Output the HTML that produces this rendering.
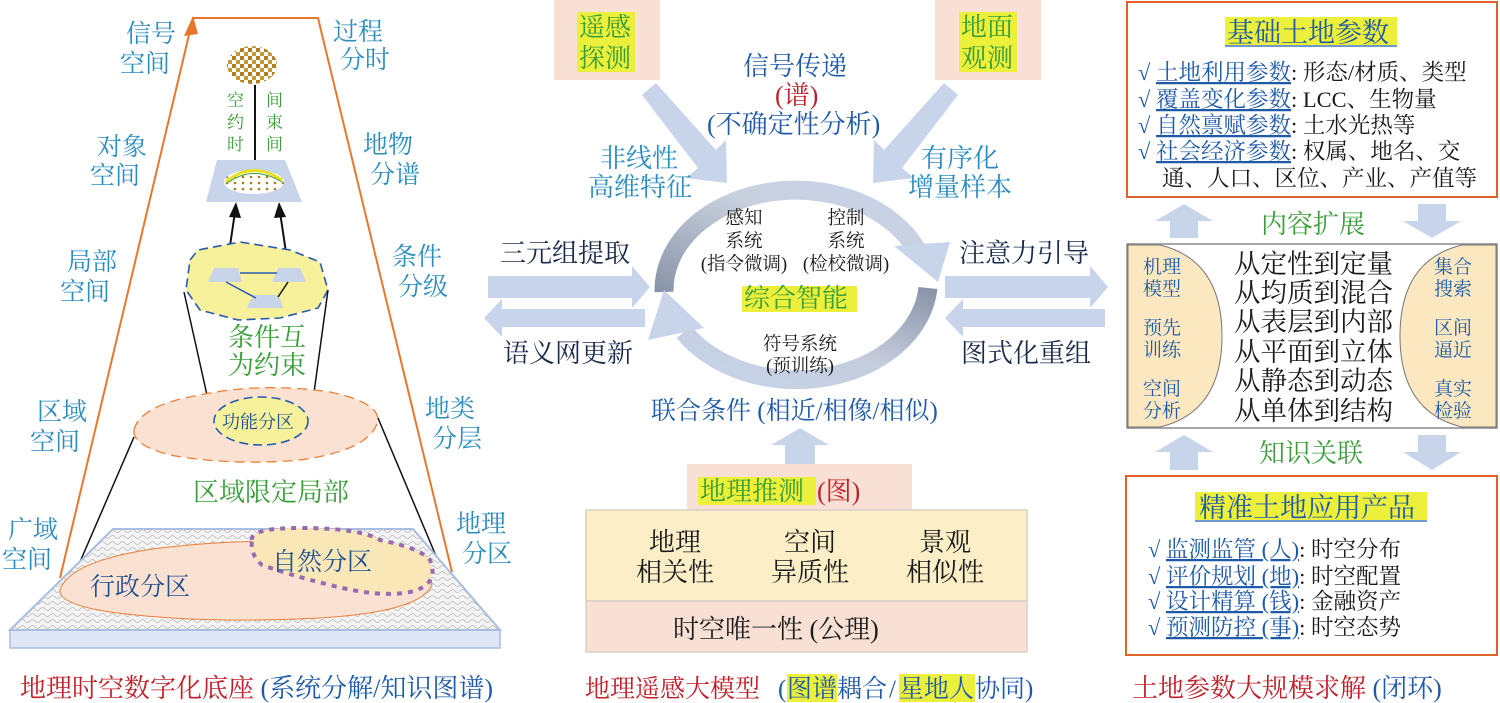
<!DOCTYPE html>
<html><head><meta charset="utf-8">
<style>
html,body{margin:0;padding:0;background:#fff;}
svg{display:block;}
text{font-family:"Liberation Serif","Noto Serif CJK SC",serif;}
.t{fill:#2b8cbf;font-size:25px;}
</style></head>
<body>
<svg width="1500" height="703" viewBox="0 0 1500 703" xmlns="http://www.w3.org/2000/svg">
<defs>
<pattern id="chk" width="8" height="8" patternUnits="userSpaceOnUse">
<rect width="8" height="8" fill="#fff"/><rect width="4" height="4" fill="#b08020"/><rect x="4" y="4" width="4" height="4" fill="#c89838"/>
</pattern>
<pattern id="wav" width="10" height="6" patternUnits="userSpaceOnUse">
<rect width="10" height="6" fill="#f4f4f4"/><path d="M0 3 Q2.5 0 5 3 T10 3" stroke="#b8b8b8" stroke-width="0.8" fill="none"/>
</pattern>
<pattern id="dots" width="8" height="6" patternUnits="userSpaceOnUse">
<rect width="8" height="6" fill="#fff"/><circle cx="3" cy="3" r="1.3" fill="#b07820"/>
</pattern>
<linearGradient id="gtop" x1="0" y1="1" x2="1" y2="0">
<stop offset="0" stop-color="#8a94a8"/><stop offset="0.6" stop-color="#c8d0de"/><stop offset="1" stop-color="#c8d4ea"/>
</linearGradient>
<linearGradient id="gbot" x1="1" y1="0" x2="0" y2="1">
<stop offset="0" stop-color="#8a94a8"/><stop offset="0.5" stop-color="#c4ccdc"/><stop offset="1" stop-color="#c8d4ea"/>
</linearGradient>
</defs>

<!-- ================= LEFT PANEL ================= -->
<polyline points="60,578 193,18 318,18 452,572" fill="none" stroke="#e8772e" stroke-width="2"/>
<polygon points="193,16 184,36 198,34" fill="#e8772e"/>

<text class="t" x="126" y="42">信号</text><text class="t" x="120" y="72">空间</text>
<text class="t" x="333" y="40">过程</text><text class="t" x="340" y="68">分时</text>
<text class="t" x="97" y="155">对象</text><text class="t" x="90" y="184">空间</text>
<text class="t" x="363" y="153">地物</text><text class="t" x="370" y="183">分谱</text>
<text class="t" x="67" y="270">局部</text><text class="t" x="60" y="300">空间</text>
<text class="t" x="392" y="265">条件</text><text class="t" x="398" y="295">分级</text>
<text class="t" x="37" y="420">区域</text><text class="t" x="30" y="450">空间</text>
<text class="t" x="425" y="417">地类</text><text class="t" x="432" y="447">分层</text>
<text class="t" x="8" y="538">广域</text><text class="t" x="2" y="568">空间</text>
<text class="t" x="456" y="532">地理</text><text class="t" x="462" y="562">分区</text>

<ellipse cx="252" cy="65" rx="25" ry="19" fill="url(#chk)"/>
<g font-size="17">
<text x="227" y="106" fill="#3a9e3a">空</text><text x="227" y="128" fill="#3a9e3a">约</text><text x="227" y="150" fill="#3a9e3a">时</text>
<text x="266" y="106" fill="#3a9e3a">间</text><text x="266" y="128" fill="#3a9e3a">束</text><text x="266" y="150" fill="#3a9e3a">间</text>
</g>
<line x1="255" y1="85" x2="255" y2="172" stroke="#111" stroke-width="2"/>
<polygon points="255,182 249,167 261,167" fill="#111"/>
<polygon points="206,202 302,202 285,160 217,160" fill="#c8d4ea"/>
<ellipse cx="254" cy="182" rx="30" ry="12" fill="url(#dots)"/>
<path d="M226 182 Q252 160 282 180" fill="none" stroke="#e8e020" stroke-width="3"/>
<path d="M226 184 Q252 164 282 182" fill="none" stroke="#3a9e3a" stroke-width="1"/>
<line x1="227" y1="266" x2="235" y2="212" stroke="#111" stroke-width="2"/>
<polygon points="236,202 229,217 241,218" fill="#111"/>
<line x1="288" y1="266" x2="280" y2="212" stroke="#111" stroke-width="2"/>
<polygon points="279,202 274,218 286,217" fill="#111"/>
<polygon points="190,260 198,250 240,242 290,250 320,262 328,290 318,308 280,318 238,320 200,310 186,290" fill="#f6f19a" stroke="#2a5ab0" stroke-width="1.6" stroke-dasharray="9,5"/>
<polygon points="208,282 242,282 238,268 214,268" fill="#c8d4ea"/>
<polygon points="272,282 306,282 300,268 278,268" fill="#c8d4ea"/>
<polygon points="247,308 283,308 279,295 253,295" fill="#c8d4ea"/>
<line x1="240" y1="273" x2="277" y2="273" stroke="#2a5ab0" stroke-width="1.5"/>
<line x1="226" y1="282" x2="256" y2="298" stroke="#2a5ab0" stroke-width="1.5"/>
<line x1="288" y1="282" x2="278" y2="297" stroke="#111" stroke-width="1.5"/>
<line x1="184" y1="292" x2="213" y2="422" stroke="#111" stroke-width="1.5"/>
<line x1="328" y1="290" x2="310" y2="422" stroke="#111" stroke-width="1.5"/>
<text x="228" y="346" font-size="26" fill="#3a9e3a">条件互</text>
<text x="228" y="374" font-size="26" fill="#3a9e3a">为约束</text>
<path d="M134 430 Q140 405 200 395 Q260 382 330 392 Q378 402 378 420 Q372 450 300 460 Q230 466 170 455 Q132 445 134 430 Z" fill="#fbe1d2" stroke="#e8803a" stroke-width="1.3" stroke-dasharray="10,6"/>
<ellipse cx="261" cy="421" rx="47" ry="24" fill="#f6f19a" stroke="#2a5ab0" stroke-width="1.6" stroke-dasharray="9,5"/>
<text x="222" y="428" font-size="18" fill="#1f4f90">功能分区</text>
<line x1="134" y1="437" x2="73" y2="578" stroke="#111" stroke-width="1.5"/>
<line x1="378" y1="418" x2="444" y2="575" stroke="#111" stroke-width="1.5"/>
<text x="193" y="501" font-size="26" fill="#3a9e3a">区域限定局部</text>
<rect x="10" y="630" width="490" height="18" fill="#dfe6f6" stroke="#a9bde0" stroke-width="1.5"/>
<polygon points="113,529 413,529 500,630 10,630" fill="url(#wav)" stroke="#a9bde0" stroke-width="2"/>
<path d="M60 590 Q70 560 160 548 Q260 536 360 545 Q430 560 432 585 Q420 612 320 618 Q200 624 110 612 Q58 604 60 590 Z" fill="#fbe1d2" stroke="#e8803a" stroke-width="1"/>
<path d="M252 540 Q250 528 300 528 Q360 528 380 540 Q420 548 430 560 Q440 585 410 592 Q380 598 330 585 Q290 575 262 565 Q250 555 252 540 Z" fill="#fae7b8" stroke="#9a6ab0" stroke-width="4" stroke-dasharray="5,6"/>
<text x="272" y="570" font-size="25" fill="#1f4f90">自然分区</text>
<text x="90" y="595" font-size="25" fill="#1f4f90">行政分区</text>
<text x="20" y="697" font-size="26"><tspan fill="#c0202a">地理时空数字化底座</tspan><tspan fill="#1f5aa8"> (系统分解/知识图谱)</tspan></text>

<!-- ================= MIDDLE PANEL ================= -->
<rect x="554" y="0" width="106" height="80" fill="#f8e0d4"/>
<rect x="577" y="12" width="58" height="60" fill="#ecf03a"/>
<text x="579" y="36" font-size="26" fill="#3a9e3a">遥感</text><text x="579" y="67" font-size="26" fill="#3a9e3a">探测</text>
<rect x="935" y="0" width="106" height="80" fill="#f8e0d4"/>
<rect x="959" y="12" width="58" height="60" fill="#ecf03a"/>
<text x="961" y="36" font-size="26" fill="#3a9e3a">地面</text><text x="961" y="67" font-size="26" fill="#3a9e3a">观测</text>

<text x="743" y="75" font-size="26" fill="#1f5aa8">信号传递</text>
<text x="775" y="104" font-size="26" fill="#c0202a">(谱)</text>
<text x="707" y="133" font-size="26" fill="#1f5aa8">(不确定性分析)</text>
<polygon points="642,95 656,83 716,150 726,140 727,183 686,178 698,168" fill="#c8d4ea"/>
<polygon points="958,95 944,83 884,150 874,140 873,183 914,178 902,168" fill="#c8d4ea"/>
<text x="600" y="167" font-size="26" fill="#2b8cbf">非线性</text>
<text x="588" y="196" font-size="26" fill="#2b8cbf">高维特征</text>
<text x="921" y="167" font-size="26" fill="#2b8cbf">有序化</text>
<text x="908" y="196" font-size="26" fill="#2b8cbf">增量样本</text>

<path d="M664 292 A132 100 0 0 1 918 252" fill="none" stroke="url(#gtop)" stroke-width="19"/>
<polygon points="894,246 950,242 938,282" fill="#c8d4ea"/>
<path d="M928 288 A132 100 0 0 1 684 332" fill="none" stroke="url(#gbot)" stroke-width="19"/>
<polygon points="648,340 704,328 664,290" fill="#c8d4ea"/>

<g font-size="18.5" fill="#1a1a1a" text-anchor="middle">
<text x="744" y="224">感知</text><text x="744" y="247">系统</text><text x="744" y="270">(指令微调)</text>
<text x="846" y="224">控制</text><text x="846" y="247">系统</text><text x="846" y="270">(检校微调)</text>
<text x="800" y="350">符号系统</text><text x="800" y="372">(预训练)</text>
</g>
<rect x="742" y="286" width="115" height="26" fill="#ecf03a"/>
<text x="744" y="307" font-size="26" fill="#3a9e3a">综合智能</text>

<text x="500" y="262" font-size="26" fill="#1a2a4a">三元组提取</text>
<polygon points="488,276 632,276 632,266 650,287 632,308 632,298 488,298" fill="#c8d4ea"/>
<polygon points="645,309 502,309 502,299 484,318 502,337 502,327 645,327" fill="#c8d4ea"/>
<text x="503" y="362" font-size="26" fill="#1a2a4a">语义网更新</text>
<text x="959" y="262" font-size="26" fill="#1a2a4a">注意力引导</text>
<polygon points="945,276 1090,276 1090,266 1108,287 1090,308 1090,298 945,298" fill="#c8d4ea"/>
<polygon points="1105,309 963,309 963,299 945,318 963,337 963,327 1105,327" fill="#c8d4ea"/>
<text x="961" y="362" font-size="26" fill="#1a2a4a">图式化重组</text>

<text x="651" y="419" font-size="25" fill="#1f5aa8">联合条件 (相近/相像/相似)</text>
<polygon points="771,445 800,428 829,445 815,445 815,464 785,464 785,445" fill="#c8d4ea"/>

<rect x="687" y="464" width="225" height="46" fill="#f8e0d4"/>
<rect x="698" y="477" width="118" height="28" fill="#ecf03a"/>
<text x="700" y="500" font-size="26" fill="#3a9e3a">地理推测</text>
<text x="817" y="500" font-size="26" fill="#c0202a">(图)</text>
<rect x="586" y="510" width="441" height="91" fill="#fcefc8" stroke="#d8d0c8" stroke-width="1.5"/>
<rect x="586" y="601" width="441" height="51" fill="#f8e0d4" stroke="#d8d0c8" stroke-width="1.5"/>
<g font-size="26" fill="#1a1a1a" text-anchor="middle">
<text x="675" y="551">地理</text><text x="675" y="581">相关性</text>
<text x="810" y="551">空间</text><text x="810" y="581">异质性</text>
<text x="945" y="551">景观</text><text x="945" y="581">相似性</text>
</g>
<text x="673" y="638" font-size="26" fill="#1a1a1a">时空唯一性 (公理)</text>
<rect x="787" y="674" width="50" height="28" fill="#ecf03a"/>
<rect x="899" y="674" width="76" height="28" fill="#ecf03a"/>
<text x="585" y="697" font-size="25" fill="#c0202a">地理遥感大模型</text>
<text x="778" y="697" font-size="25" fill="#1f5aa8">(</text>
<text x="787" y="697" font-size="25" fill="#1f5aa8">图谱</text>
<text x="837" y="697" font-size="25" fill="#1f5aa8">耦合</text>
<text x="889" y="697" font-size="25" fill="#1f5aa8">/</text>
<text x="899" y="697" font-size="25" fill="#1f5aa8">星地人</text>
<text x="975" y="697" font-size="25" fill="#1f5aa8">协同)</text>

<!-- ================= RIGHT PANEL ================= -->
<rect x="1127" y="2" width="370" height="195" fill="#fff" stroke="#e0622a" stroke-width="2"/>
<rect x="1225" y="17" width="172" height="28" fill="#ecf03a"/>
<text x="1227" y="42" font-size="27" fill="#1f5aa8">基础土地参数</text>
<line x1="1225" y1="46" x2="1397" y2="46" stroke="#1f5aa8" stroke-width="1.2"/>
<g font-size="22.5">
<text x="1138" y="80"><tspan fill="#1f5aa8">√ </tspan><tspan fill="#1f5aa8" text-decoration="underline">土地利用参数</tspan><tspan fill="#1a1a1a">: 形态/材质、类型</tspan></text>
<text x="1138" y="107"><tspan fill="#1f5aa8">√ </tspan><tspan fill="#1f5aa8" text-decoration="underline">覆盖变化参数</tspan><tspan fill="#1a1a1a">: LCC、生物量</tspan></text>
<text x="1138" y="133"><tspan fill="#1f5aa8">√ </tspan><tspan fill="#1f5aa8" text-decoration="underline">自然禀赋参数</tspan><tspan fill="#1a1a1a">: 土水光热等</tspan></text>
<text x="1138" y="159"><tspan fill="#1f5aa8">√ </tspan><tspan fill="#1f5aa8" text-decoration="underline">社会经济参数</tspan><tspan fill="#1a1a1a">: 权属、地名、交</tspan></text>
<text x="1162" y="186" fill="#1a1a1a">通、人口、区位、产业、产值等</text>
</g>
<polygon points="1155,221 1184,204 1213,221 1198,221 1198,238 1170,238 1170,221" fill="#c8d4ea"/>
<polygon points="1403,221 1432,238 1461,221 1446,221 1446,204 1418,204 1418,221" fill="#c8d4ea"/>
<text x="1261" y="233" font-size="26" fill="#3a9e3a">内容扩展</text>

<rect x="1127" y="244" width="370" height="184" fill="#fff" stroke="#8a8a8a" stroke-width="1.5"/>
<path d="M1128 245 L1160 245 Q1222 260 1222 336 Q1222 412 1160 427 L1128 427 Z" fill="#fbe8c0" stroke="#777" stroke-width="1"/>
<path d="M1496 245 L1462 245 Q1400 260 1400 336 Q1400 412 1462 427 L1496 427 Z" fill="#fbe8c0" stroke="#777" stroke-width="1"/>
<g font-size="19" fill="#1f5aa8">
<text x="1143" y="273">机理</text><text x="1143" y="295">模型</text>
<text x="1143" y="334">预先</text><text x="1143" y="356">训练</text>
<text x="1143" y="395">空间</text><text x="1143" y="417">分析</text>
<text x="1434" y="273">集合</text><text x="1434" y="295">搜索</text>
<text x="1434" y="334">区间</text><text x="1434" y="356">逼近</text>
<text x="1434" y="395">真实</text><text x="1434" y="417">检验</text>
</g>
<g font-size="26.5" fill="#1a1a1a">
<text x="1234" y="273">从定性到定量</text>
<text x="1234" y="302">从均质到混合</text>
<text x="1234" y="331">从表层到内部</text>
<text x="1234" y="361">从平面到立体</text>
<text x="1234" y="390">从静态到动态</text>
<text x="1234" y="420">从单体到结构</text>
</g>
<polygon points="1155,452 1184,435 1213,452 1198,452 1198,470 1170,470 1170,452" fill="#c8d4ea"/>
<polygon points="1403,452 1432,470 1461,452 1446,452 1446,435 1418,435 1418,452" fill="#c8d4ea"/>
<text x="1259" y="462" font-size="26" fill="#3a9e3a">知识关联</text>

<rect x="1126" y="476" width="371" height="179" fill="#fff" stroke="#e0622a" stroke-width="2"/>
<rect x="1195" y="492" width="232" height="28" fill="#ecf03a"/>
<text x="1199" y="517" font-size="27" fill="#1f5aa8">精准土地应用产品</text>
<line x1="1195" y1="521" x2="1427" y2="521" stroke="#1f5aa8" stroke-width="1.2"/>
<g font-size="22.5">
<text x="1148" y="557"><tspan fill="#1f5aa8">√  </tspan><tspan fill="#1f5aa8" text-decoration="underline">监测监管 (人)</tspan><tspan fill="#1a1a1a">: 时空分布</tspan></text>
<text x="1148" y="584"><tspan fill="#1f5aa8">√  </tspan><tspan fill="#1f5aa8" text-decoration="underline">评价规划 (地)</tspan><tspan fill="#1a1a1a">: 时空配置</tspan></text>
<text x="1148" y="609"><tspan fill="#1f5aa8">√  </tspan><tspan fill="#1f5aa8" text-decoration="underline">设计精算 (钱)</tspan><tspan fill="#1a1a1a">: 金融资产</tspan></text>
<text x="1148" y="635"><tspan fill="#1f5aa8">√  </tspan><tspan fill="#1f5aa8" text-decoration="underline">预测防控 (事)</tspan><tspan fill="#1a1a1a">: 时空态势</tspan></text>
</g>
<text x="1132" y="697" font-size="26"><tspan fill="#c0202a">土地参数大规模求解</tspan><tspan fill="#1f5aa8"> (闭环)</tspan></text>
</svg>
</body></html>
